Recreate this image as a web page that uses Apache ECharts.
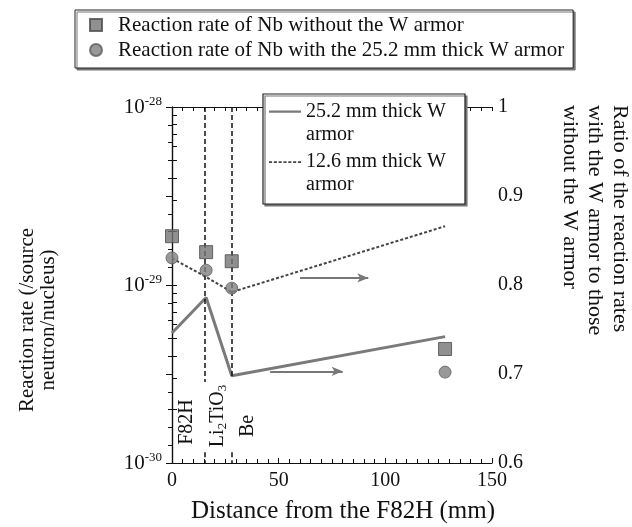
<!DOCTYPE html>
<html><head><meta charset="utf-8">
<script src="https://cdn.jsdelivr.net/npm/echarts@6/dist/echarts.min.js"></script>
<style>html,body{margin:0;padding:0;background:#fff}#c{width:632px;height:527px}#err{position:absolute;left:0;top:0;font:12px monospace;color:red}</style>
</head><body><div id="c"></div><div id="err"></div>
<script>
// ---- data ----
const distances = [0, 16, 28, 128];
const rateWithoutArmor = [1.88e-29, 1.53e-29, 1.36e-29, 4.37e-30];
const rateWithArmor252 = [1.42e-29, 1.21e-29, 9.6e-30, 3.24e-30];
const ratioDistances = [0, 16, 28, 128];
const ratio252 = [0.746, 0.786, 0.698, 0.742];
const ratio126 = [0.830, 0.809, 0.792, 0.866];
const xTicks = [0, 50, 100, 150];
const leftTickLabels = [1e-30, 1e-29, 1e-28];
const rightTickLabels = [0.6, 0.7, 0.8, 0.9, 1];
const layerBoundaries = [15.5, 28];
const layerNames = ['F82H', 'Li{s|2}TiO{s|3}', 'Be'];
const seriesNames = [
  'Reaction rate of Nb without the W armor',
  'Reaction rate of Nb with the 25.2 mm thick W armor',
  '25.2 mm thick W armor',
  '12.6 mm thick W armor'
];
// decade exponents of the log axis labels, and minor tick positions (exponent space)
const leftLabelExps = leftTickLabels.map(v => Math.round(Math.log10(v)));
const leftTickExps = [];
[-30, -29].forEach(n => { for (let k = 1; k <= 9; k++) leftTickExps.push(n + Math.log10(k)); });
leftTickExps.push(-28);

const SERIF = '"Liberation Serif", "Times New Roman", serif';
const INK = '#111';

const pair = (xs, ys) => xs.map((x, i) => [x, ys[i]]);

const solidIcon = 'path://M0,0h0.01v0.01h-0.01Z M0,10.5h32v2.2h-32Z M0,45.99h0.01v0.01h-0.01Z';
let dashPath = 'M0,0h0.01v0.01h-0.01Z ';
for (let x = 0; x < 32; x += 5) dashPath += 'M' + x + ',10.7h3.2v1.8h-3.2Z ';
dashPath += 'M0,45.99h0.01v0.01h-0.01Z';
const dashIcon = 'path://' + dashPath;

const axisLineStyle = { color: INK, width: 1.2 };

try {
const chart = echarts.init(document.getElementById('c'));
chart.setOption({
  backgroundColor: '#fff',
  animation: false,
  grid: { left: 172, right: 140, top: 107, bottom: 64, containLabel: false, outerBoundsMode: 'none' },
  legend: [
    {
      data: [seriesNames[0], seriesNames[1]],
      orient: 'vertical', left: 75, top: 10,
      padding: [4, 9, 7, 14], itemGap: 3, itemWidth: 12, itemHeight: 12,
      textStyle: { fontFamily: SERIF, fontSize: 21, color: INK, lineHeight: 22, padding: [0, 0, 0, 11] },
      backgroundColor: '#fff', borderColor: '#222', borderWidth: 1,
      shadowColor: '#777', shadowOffsetX: 2, shadowOffsetY: 2, shadowBlur: 0,
      selectedMode: false
    },
    {
      data: [
        { name: seriesNames[2], icon: solidIcon },
        { name: seriesNames[3], icon: dashIcon }
      ],
      orient: 'vertical', left: 263, top: 94,
      padding: [6, 19, 8, 6], itemGap: 4, itemWidth: 32, itemHeight: 46,
      itemStyle: { borderWidth: 0 },
      formatter: n => n.replace(' armor', '\narmor'),
      textStyle: { fontFamily: SERIF, fontSize: 20, color: INK, lineHeight: 23 },
      backgroundColor: '#fff', borderColor: '#222', borderWidth: 1.2,
      shadowColor: '#777', shadowOffsetX: 2, shadowOffsetY: 2, shadowBlur: 0,
      selectedMode: false
    }
  ],
  xAxis: [
    {
      type: 'value', min: xTicks[0], max: xTicks[xTicks.length - 1], interval: 50, position: 'bottom',
      axisLine: { lineStyle: axisLineStyle },
      axisTick: { inside: true, length: 5, lineStyle: { color: INK } },
      minorTick: { show: true, splitNumber: 10, length: 4, lineStyle: { color: INK } },
      axisLabel: { margin: 8, fontSize: 20, fontFamily: SERIF, color: INK },
      splitLine: { show: false },
      name: 'Distance from the F82H (mm)', nameLocation: 'middle', nameGap: 36,
      nameTextStyle: { fontSize: 25, fontFamily: SERIF, color: INK, padding: [0, 0, 0, 22] }
    },
    {
      type: 'value', min: xTicks[0], max: xTicks[xTicks.length - 1], interval: 50, position: 'top',
      axisLine: { lineStyle: axisLineStyle },
      axisTick: { inside: true, length: 4, lineStyle: { color: INK } },
      minorTick: { show: true, splitNumber: 10, length: 4, lineStyle: { color: INK } },
      axisLabel: { show: false }, splitLine: { show: false }
    }
  ],
  yAxis: [
    {
      type: 'log', logBase: 10, min: leftTickLabels[0], max: leftTickLabels[leftTickLabels.length - 1], position: 'left',
      axisLine: { show: true, lineStyle: axisLineStyle },
      axisTick: { show: false },
      axisLabel: { show: false },
      splitLine: { show: false }
    },
    {
      type: 'value', min: rightTickLabels[0], max: rightTickLabels[rightTickLabels.length - 1], interval: 0.1, position: 'right',
      axisLine: { show: true, lineStyle: axisLineStyle },
      axisTick: { inside: true, length: 6, lineStyle: { color: INK } },
      minorTick: { show: true, splitNumber: 5, length: 4, lineStyle: { color: INK } },
      axisLabel: { margin: 6, fontSize: 20, fontFamily: SERIF, color: INK },
      splitLine: { show: false }
    },
    {
      // exponent-space companion of the log axis: carries its decade labels and log-spaced ticks
      type: 'value', min: leftLabelExps[0], max: leftLabelExps[leftLabelExps.length - 1], position: 'left',
      axisLine: { show: false },
      axisTick: { show: true, inside: true, length: 5, customValues: leftTickExps, lineStyle: { color: INK } },
      axisLabel: {
        margin: 10, customValues: leftLabelExps,
        formatter: v => '{b|10}{s|' + Math.round(v) + '}',
        rich: {
          b: { fontSize: 21, fontFamily: SERIF, color: INK, lineHeight: 24 },
          s: { fontSize: 13, fontFamily: SERIF, color: INK, lineHeight: 10, verticalAlign: 'top' }
        }
      },
      splitLine: { show: false }
    }
  ],
  series: [
    {
      name: seriesNames[2], type: 'line', xAxisIndex: 0, yAxisIndex: 1,
      data: pair(ratioDistances, ratio252), symbol: 'none',
      lineStyle: { color: '#7a7a7a', width: 3 }, itemStyle: { color: '#7a7a7a' }, z: 2,
      markLine: {
        silent: true, symbol: ['none', 'none'], label: { show: false },
        lineStyle: { color: INK, width: 1.5, type: [5, 3] },
        emphasis: { disabled: true },
        data: [
          [{ coord: [layerBoundaries[0], 1] }, { coord: [layerBoundaries[0], 0.691] }],
          [{ coord: [layerBoundaries[0], 0.612] }, { coord: [layerBoundaries[0], 0.6] }],
          [{ coord: [layerBoundaries[1], 1] }, { coord: [layerBoundaries[1], 0.697] }],
          [{ coord: [layerBoundaries[1], 0.612] }, { coord: [layerBoundaries[1], 0.6] }],
          [{ coord: [60, 0.808], symbol: 'none', lineStyle: { color: '#777', width: 2, type: 'solid' } },
           { coord: [92, 0.808], symbol: 'arrow', symbolSize: [7, 11] }],
          [{ coord: [46, 0.703], symbol: 'none', lineStyle: { color: '#777', width: 2, type: 'solid' } },
           { coord: [80, 0.703], symbol: 'arrow', symbolSize: [7, 11] }]
        ]
      }
    },
    {
      name: seriesNames[3], type: 'line', xAxisIndex: 0, yAxisIndex: 1,
      data: pair(ratioDistances, ratio126), symbol: 'none',
      lineStyle: { color: '#444', width: 2, type: [3, 2] }, itemStyle: { color: '#444' }, z: 2
    },
    {
      name: seriesNames[0], type: 'scatter', xAxisIndex: 0, yAxisIndex: 0,
      data: pair(distances, rateWithoutArmor), symbol: 'rect', symbolSize: 13,
      itemStyle: { color: '#747474', borderColor: '#4a4a4a', borderWidth: 1 }, z: 5
    },
    {
      name: seriesNames[1], type: 'scatter', xAxisIndex: 0, yAxisIndex: 0,
      data: pair(distances, rateWithArmor252), symbol: 'circle', symbolSize: 12,
      itemStyle: { color: '#808080', borderColor: '#5c5c5c', borderWidth: 1 }, z: 5
    }
  ],
  graphic: [
    { type: 'text', x: 37.5, y: 320, rotation: Math.PI / 2,
      style: { text: 'Reaction rate (/source\nneutron/nucleus)', fontSize: 21, fontFamily: SERIF, fill: INK,
               align: 'center', verticalAlign: 'middle', lineHeight: 21 } },
    { type: 'text', x: 595, y: 105, rotation: -Math.PI / 2,
      style: { text: 'Ratio of the reaction rates\nwith the W armor to those\nwithout the W armor', fontSize: 22,
               fontFamily: SERIF, fill: INK, align: 'left', verticalAlign: 'middle', lineHeight: 25 } },
    { type: 'text', x: 187, y: 422, rotation: Math.PI / 2,
      style: { text: layerNames[0], fontSize: 20, fontFamily: SERIF, fill: INK, align: 'center', verticalAlign: 'middle' } },
    { type: 'text', x: 218, y: 416, rotation: Math.PI / 2,
      style: { text: layerNames[1], fontSize: 20, fontFamily: SERIF, fill: INK, align: 'center', verticalAlign: 'middle',
               lineHeight: 22,
               rich: { s: { fontSize: 13, fontFamily: SERIF, fill: INK, lineHeight: 12, verticalAlign: 'bottom' } } } },
    { type: 'text', x: 248, y: 426, rotation: Math.PI / 2,
      style: { text: layerNames[2], fontSize: 20, fontFamily: SERIF, fill: INK, align: 'center', verticalAlign: 'middle' } }
  ]
});
} catch (e) { document.getElementById('err').textContent = String(e && e.stack || e); }
window.onerror = function (m) { document.getElementById('err').textContent += ' | ' + m; };
</script></body></html>
